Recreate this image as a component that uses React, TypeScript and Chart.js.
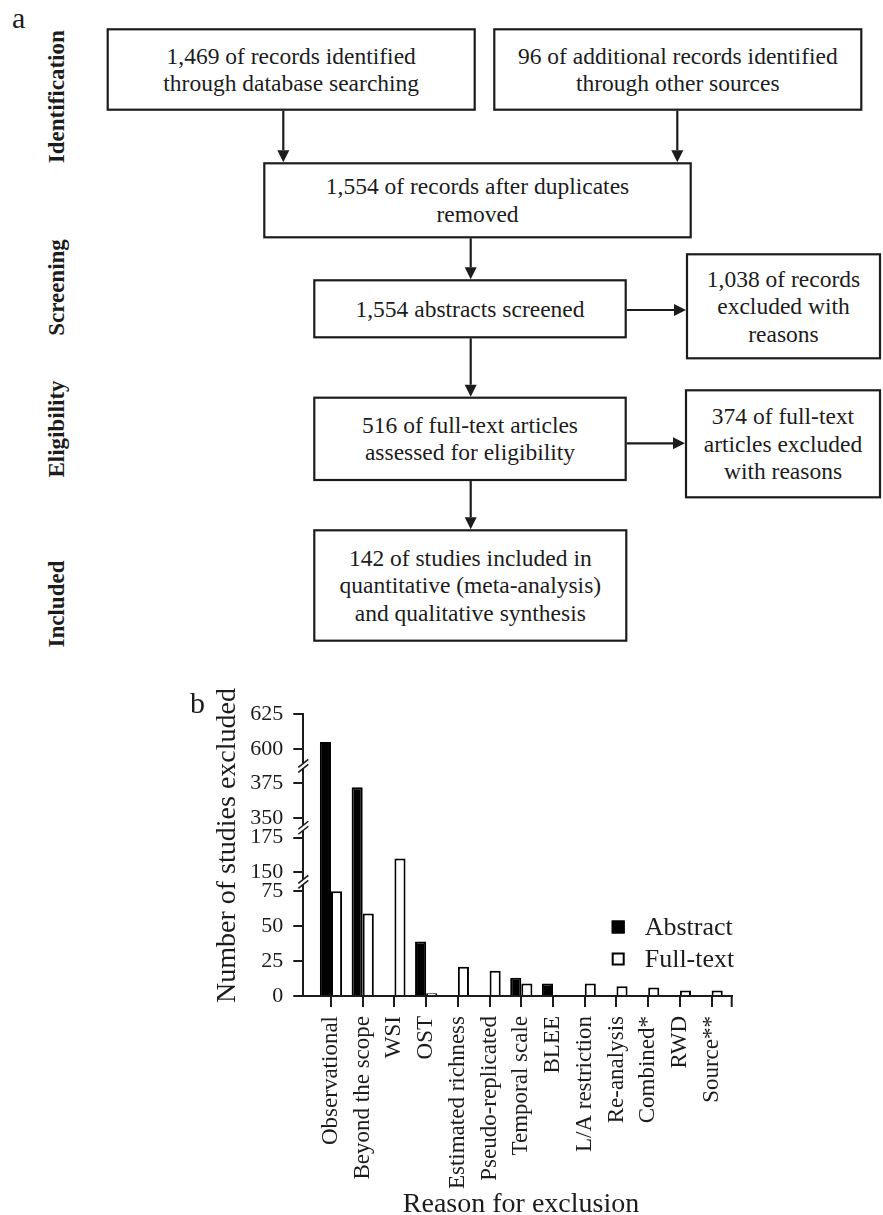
import React, { useEffect, useRef } from 'react';
import { Chart, registerables } from 'chart.js';

Chart.register(...registerables);

// ---- Panel b data ----
const reasons = [
  'Observational',
  'Beyond the scope',
  'WSI',
  'OST',
  'Estimated richness',
  'Pseudo-replicated',
  'Temporal scale',
  'BLEE',
  'L/A restriction',
  'Re-analysis',
  'Combined*',
  'RWD',
  'Source**',
];
const abstractCounts = [605, 372, 0, 39, 0, 0, 13, 9, 0, 0, 0, 0, 0];
const fullTextCounts = [75, 59, 160, 2, 21, 18, 9, 0, 9, 7, 6, 4, 4];
const yTickValues = [0, 25, 50, 75, 150, 175, 350, 375, 600, 625];
const legendLabels = ['Abstract', 'Full-text'];

// Broken y axis: each visible value range and where it starts on the continuous axis
const axisSegments = [
  { from: 0, to: 75, start: 0 },
  { from: 150, to: 175, start: 88.4 },
  { from: 350, to: 375, start: 127.4 },
  { from: 600, to: 625, start: 176.8 },
];
const axisTop = 201.8;

// ---- Panel a content ----
const stageLabels = ['Identification', 'Screening', 'Eligibility', 'Included'];
const stageCenters = [96.7, 287.5, 429, 604];
const boxTexts = [
  ['1,469 of records identified', 'through database searching'],
  ['96 of additional records identified', 'through other sources'],
  ['1,554 of records after duplicates', 'removed'],
  ['1,554 abstracts screened'],
  ['1,038 of records', 'excluded with', 'reasons'],
  ['516 of full-text articles', 'assessed for eligibility'],
  ['374 of full-text', 'articles excluded', 'with reasons'],
  ['142 of studies included in', 'quantitative (meta-analysis)', 'and qualitative synthesis'],
];
// box frames: [left, top, right, bottom]
const boxFrames = [
  [106.7, 28.3, 475.7, 110.7],
  [493.3, 28.3, 862.3, 110.7],
  [263.3, 162.3, 691.7, 238.3],
  [313.3, 279.3, 626.7, 338.3],
  [686, 253.3, 881, 359.3],
  [313.3, 396.7, 626.7, 481],
  [685, 389.3, 881, 498.3],
  [313.3, 529.3, 627.3, 641.7],
];
// arrows: [x1, y1, x2, y2]
const arrows = [
  [283.3, 110.7, 283.3, 162.3],
  [677.3, 110.7, 677.3, 162.3],
  [470.7, 238.3, 470.7, 279.3],
  [626.7, 310, 686, 310],
  [470.7, 338.3, 470.7, 396.7],
  [626.7, 443.3, 685, 443.3],
  [470.7, 481, 470.7, 529.3],
];

const SERIF = '"Liberation Serif", "Times New Roman", serif';
const INK = '#1c1c1c';

function toAxis(v: number): number {
  for (const s of axisSegments) {
    if (v >= s.from && v <= s.to) return s.start + (v - s.from);
  }
  let best = axisSegments[0];
  for (const s of axisSegments) if (v >= s.from) best = s;
  return best.start + Math.min(v - best.from, best.to - best.from);
}

const breakPositions = axisSegments.slice(1).map((s, i) => {
  const prev = axisSegments[i];
  return (prev.start + (prev.to - prev.from) + s.start) / 2;
});

const decorations = {
  id: 'decorations',
  afterDraw(chart: any) {
    const { ctx, chartArea, scales } = chart;
    const y = scales.y;
    ctx.save();

    // axis break marks
    const ax = chartArea.left;
    breakPositions.forEach((b) => {
      const py = y.getPixelForValue(b);
      ctx.fillStyle = '#fff';
      ctx.fillRect(ax - 2, py - 2.5, 4, 5);
      ctx.strokeStyle = INK;
      ctx.lineWidth = 1.6;
      [-2.5, 2.5].forEach((k) => {
        ctx.beginPath();
        ctx.moveTo(ax - 5, py + 4 + k);
        ctx.lineTo(ax + 5, py - 4 + k);
        ctx.stroke();
      });
    });

    // closing tick at the right end of the x axis
    ctx.strokeStyle = INK;
    ctx.lineWidth = 2;
    ctx.beginPath();
    ctx.moveTo(chartArea.right, chartArea.bottom);
    ctx.lineTo(chartArea.right, chartArea.bottom + 11);
    ctx.stroke();

    // legend
    const lx = chartArea.right - 120;
    const rows = [chartArea.top + 213, chartArea.top + 245];
    ctx.font = `26px ${SERIF}`;
    ctx.textBaseline = 'middle';
    ctx.textAlign = 'left';
    rows.forEach((ry, i) => {
      const ds = chart.data.datasets[i];
      ctx.fillStyle = ds.backgroundColor;
      ctx.fillRect(lx, ry - 6.5, 13, 13);
      ctx.strokeStyle = ds.borderColor;
      ctx.lineWidth = 2;
      ctx.strokeRect(lx + 1, ry - 5.5, 11, 11);
      ctx.fillStyle = INK;
      ctx.fillText(legendLabels[i], lx + 33, ry + 1);
    });

    // axis titles
    ctx.fillStyle = INK;
    ctx.font = `28px ${SERIF}`;
    ctx.textAlign = 'center';
    ctx.textBaseline = 'alphabetic';
    ctx.fillText('Reason for exclusion', 521, 532);

    ctx.save();
    ctx.translate(235, 165.5);
    ctx.rotate(-Math.PI / 2);
    ctx.fillText('Number of studies excluded', 0, 0);
    ctx.restore();

    // panel letter
    ctx.textAlign = 'left';
    ctx.font = `30px ${SERIF}`;
    ctx.fillText('b', 190, 33);

    ctx.restore();
  },
};

function ExclusionChart() {
  const ref = useRef<HTMLCanvasElement | null>(null);

  useEffect(() => {
    if (!ref.current) return;
    const chart = new Chart(ref.current, {
      type: 'bar',
      data: {
        datasets: [
          {
            label: legendLabels[0],
            data: abstractCounts.map((v, i) => ({ x: i, y: toAxis(v) })),
            backgroundColor: '#000',
            borderColor: '#000',
            borderWidth: 2,
            categoryPercentage: 0.7,
            barPercentage: 1,
          },
          {
            label: legendLabels[1],
            data: fullTextCounts.map((v, i) => ({ x: i, y: toAxis(v) })),
            backgroundColor: '#fff',
            borderColor: '#000',
            borderWidth: 2,
            categoryPercentage: 0.7,
            barPercentage: 1,
          },
        ],
      },
      options: {
        responsive: false,
        animation: false,
        events: [],
        layout: { padding: { left: 205, top: 34, right: 151.3, bottom: 0 } },
        plugins: {
          legend: { display: false },
          tooltip: { enabled: false },
        },
        scales: {
          x: {
            type: 'linear',
            min: -0.873,
            max: 12.633,
            offset: false,
            grid: {
              display: true,
              drawOnChartArea: false,
              drawTicks: true,
              tickLength: 11,
              color: INK,
              lineWidth: 2,
              offset: false,
            },
            border: { display: true, color: INK, width: 2 },
            ticks: {
              autoSkip: false,
              minRotation: 90,
              maxRotation: 90,
              padding: 9,
              color: INK,
              font: { family: SERIF, size: 23 },
              callback: (val: any) => reasons[Math.round(Number(val))] ?? '',
            },
            afterBuildTicks: (scale: any) => {
              scale.ticks = reasons.map((_, i) => ({ value: i }));
            },
            afterFit: (scale: any) => {
              scale.height = 219;
            },
          },
          y: {
            type: 'linear',
            min: 0,
            max: axisTop,
            grid: {
              display: true,
              drawOnChartArea: false,
              drawTicks: true,
              tickLength: 10,
              color: INK,
              lineWidth: 2,
            },
            border: { display: true, color: INK, width: 2 },
            ticks: {
              padding: 10,
              color: INK,
              font: { family: SERIF, size: 22 },
              callback: (_v: any, idx: number) => String(yTickValues[idx]),
            },
            afterBuildTicks: (scale: any) => {
              scale.ticks = yTickValues.map((v) => ({ value: toAxis(v) }));
            },
            afterFit: (scale: any) => {
              scale.width = 98.3;
            },
          },
        },
      },
      plugins: [decorations],
    } as any);
    return () => chart.destroy();
  }, []);

  return (
    <canvas
      ref={ref}
      width={883}
      height={535}
      style={{ position: 'absolute', left: 0, top: 680, width: 883, height: 535 }}
    />
  );
}

function FlowDiagram() {
  const fs = 23.5;
  const lh = 27.5;
  const textStyle = { fontFamily: SERIF, fill: INK } as React.CSSProperties;
  return (
    <svg width={883} height={680} style={{ position: 'absolute', left: 0, top: 0 }}>
      <text x={12} y={28} style={{ ...textStyle, fontSize: 30 }}>
        a
      </text>
      {stageLabels.map((s, i) => (
        <text
          key={s}
          transform={`translate(63.5,${stageCenters[i]}) rotate(-90)`}
          textAnchor="middle"
          style={{ ...textStyle, fontSize: 23, fontWeight: 'bold' }}
        >
          {s}
        </text>
      ))}
      {boxFrames.map(([x0, y0, x1, y1], i) => {
        const lines = boxTexts[i];
        const cx = (x0 + x1) / 2;
        const cy = (y0 + y1) / 2;
        return (
          <g key={i}>
            <rect
              x={x0 + 1}
              y={y0 + 1}
              width={x1 - x0 - 2}
              height={y1 - y0 - 2}
              fill="#fff"
              stroke={INK}
              strokeWidth={2.2}
            />
            {lines.map((t, j) => (
              <text
                key={j}
                x={cx}
                y={cy - ((lines.length - 1) / 2) * lh + j * lh + 0.33 * fs}
                textAnchor="middle"
                style={{ ...textStyle, fontSize: fs }}
              >
                {t}
              </text>
            ))}
          </g>
        );
      })}
      {arrows.map(([x1, y1, x2, y2], i) => {
        const vertical = x1 === x2;
        const head = 12;
        const half = 6;
        const ex = vertical ? x2 : x2 - head;
        const ey = vertical ? y2 - head : y2;
        const pts = vertical
          ? `${x2 - half},${y2 - head} ${x2 + half},${y2 - head} ${x2},${y2}`
          : `${x2 - head},${y2 - half} ${x2 - head},${y2 + half} ${x2},${y2}`;
        return (
          <g key={i}>
            <line x1={x1} y1={y1} x2={ex} y2={ey} stroke={INK} strokeWidth={2.2} />
            <polygon points={pts} fill={INK} />
          </g>
        );
      })}
    </svg>
  );
}

export default function App() {
  return (
    <div
      style={{
        position: 'absolute',
        left: 0,
        top: 0,
        width: 883,
        height: 1215,
        background: '#fff',
        overflow: 'hidden',
      }}
    >
      <FlowDiagram />
      <ExclusionChart />
    </div>
  );
}
